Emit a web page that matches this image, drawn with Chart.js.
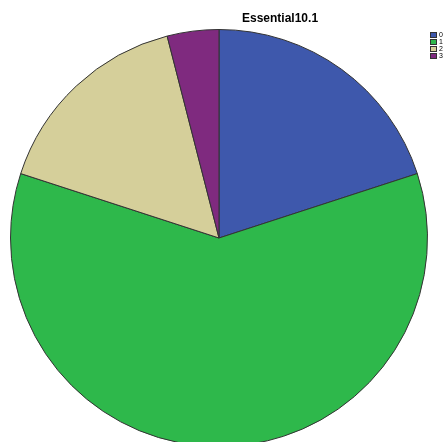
<!DOCTYPE html>
<html>
<head>
<meta charset="utf-8">
<script src="https://cdn.jsdelivr.net/npm/chart.js@4"></script>
<style>
  html, body { margin: 0; padding: 0; background: #fff; overflow: hidden; width: 447px; height: 442px; }
  #wrap { position: relative; width: 447px; height: 442px; overflow: hidden; }
  #pie { position: absolute; left: 0; top: 0; }
  #title { position: absolute; top: 11px; left: 242px; font: bold 12px "Liberation Sans", Arial, sans-serif; color: #000; }
  #legend { position: absolute; left: 430px; top: 31px; font: 7px "Liberation Sans", Arial, sans-serif; color: #000; }
  .item { display: flex; align-items: center; height: 7px; }
  .box { width: 7px; height: 6px; border: 1px solid #333; margin-right: 2px; box-sizing: border-box; }
</style>
</head>
<body>
<div id="wrap">
  <canvas id="pie" width="447" height="460"></canvas>
  <div id="title">Essential10.1</div>
  <div id="legend"></div>
</div>
<script>
// categories and counts
const labels = ["0", "1", "2", "3"];
const counts = [5, 15, 4, 1];
const colors = ["#3e58ac", "#2eb84b", "#d5cf9a", "#7f2a7f"];

// legend as html text
const legend = document.getElementById("legend");
labels.forEach((l, i) => {
  const row = document.createElement("div");
  row.className = "item";
  row.innerHTML = `<span class="box" style="background:${colors[i]}"></span><span>${l}</span>`;
  legend.appendChild(row);
});

new Chart(document.getElementById("pie").getContext("2d"), {
  type: "pie",
  data: {
    labels: labels,
    datasets: [
      {
        data: counts,
        backgroundColor: colors,
        borderColor: "#333",
        borderWidth: 1,
      },
    ],
  },
  options: {
    responsive: false,
    animation: false,
    layout: { padding: { left: 10, right: 19, top: 29, bottom: 13 } },
    plugins: {
      legend: { display: false },
      tooltip: { enabled: false },
    },
  },
});
</script>
</body>
</html>
